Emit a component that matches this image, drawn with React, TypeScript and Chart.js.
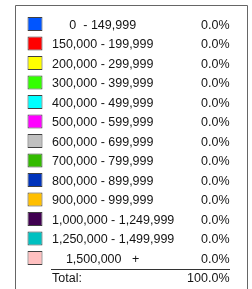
import React, { useEffect, useRef } from "react";
import { Chart, registerables } from "chart.js";

Chart.register(...registerables);

const categories = [
  "     0  - 149,999",
  "150,000 - 199,999",
  "200,000 - 299,999",
  "300,000 - 399,999",
  "400,000 - 499,999",
  "500,000 - 599,999",
  "600,000 - 699,999",
  "700,000 - 799,999",
  "800,000 - 899,999",
  "900,000 - 999,999",
  "1,000,000 - 1,249,999",
  "1,250,000 - 1,499,999",
  "    1,500,000   +",
  "Total:",
];

const percents = [
  "0.0%", "0.0%", "0.0%", "0.0%", "0.0%", "0.0%", "0.0%",
  "0.0%", "0.0%", "0.0%", "0.0%", "0.0%", "0.0%", "100.0%",
];

const swatchColors = [
  "#0055FF", "#FF0000", "#FFFF00", "#33FF00", "#00FFFF", "#FF00FF", "#C0C0C0",
  "#33BB00", "#0033BB", "#FFBF00", "#400050", "#00C0C0", "#FFC0C0", "transparent",
];

const FONT = "12.5px 'Liberation Sans', Arial, sans-serif";

export default function App() {
  const ref = useRef<HTMLCanvasElement>(null);

  useEffect(() => {
    if (!ref.current) return;
    const tablePlugin = {
      id: "tablePlugin",
      beforeDraw(chart: any) {
        const ctx = chart.ctx;
        ctx.save();
        ctx.fillStyle = "#ffffff";
        ctx.fillRect(0, 0, chart.width, chart.height);
        ctx.strokeStyle = "#666666";
        ctx.lineWidth = 1;
        ctx.beginPath();
        ctx.moveTo(15.5, chart.height + 2);
        ctx.lineTo(15.5, 5.5);
        ctx.lineTo(247.5, 5.5);
        ctx.lineTo(247.5, chart.height + 2);
        ctx.stroke();
        ctx.restore();
      },
      afterDatasetsDraw(chart: any) {
        const ctx = chart.ctx;
        const y = chart.scales.y;
        ctx.save();
        ctx.font = FONT;
        ctx.fillStyle = "#141414";
        ctx.textBaseline = "middle";
        categories.forEach((c, i) => {
          const py = y.getPixelForValue(i) + 1.5;
          ctx.textAlign = "left";
          ctx.fillText(c, 52, py);
          ctx.textAlign = "right";
          ctx.fillText(percents[i], 229.5, py);
        });
        const last = categories.length - 1;
        const ly = Math.round((y.getPixelForValue(last) + y.getPixelForValue(last - 1)) / 2) + 1.5;
        ctx.strokeStyle = "#333333";
        ctx.lineWidth = 1;
        ctx.beginPath();
        ctx.moveTo(51, ly);
        ctx.lineTo(230, ly);
        ctx.stroke();
        ctx.restore();
      },
    };

    const chart = new Chart(ref.current, {
      type: "bar",
      data: {
        labels: categories,
        datasets: [
          {
            data: categories.map((_, i) => (i < categories.length - 1 ? [27.5, 42.5] : null)) as any,
            backgroundColor: swatchColors,
            borderColor: "#404040",
            borderWidth: 1,
            borderSkipped: false,
            inflateAmount: 0,
            barThickness: 14,
          } as any,
        ],
      },
      options: {
        indexAxis: "y",
        responsive: false,
        animation: false,
        events: [],
        layout: { padding: { left: 0, right: 0, top: 14.25, bottom: 1.75 } },
        plugins: { legend: { display: false }, tooltip: { enabled: false } },
        scales: {
          x: { type: "linear", min: 0, max: 252, display: false },
          y: { type: "category", display: false, offset: true },
        },
      },
      plugins: [tablePlugin],
    });
    return () => chart.destroy();
  }, []);

  return (
    <div style={{ position: "fixed", left: 0, top: 0, width: 252, height: 289 }}>
      <canvas ref={ref} width={252} height={289} style={{ display: "block" }} />
    </div>
  );
}
